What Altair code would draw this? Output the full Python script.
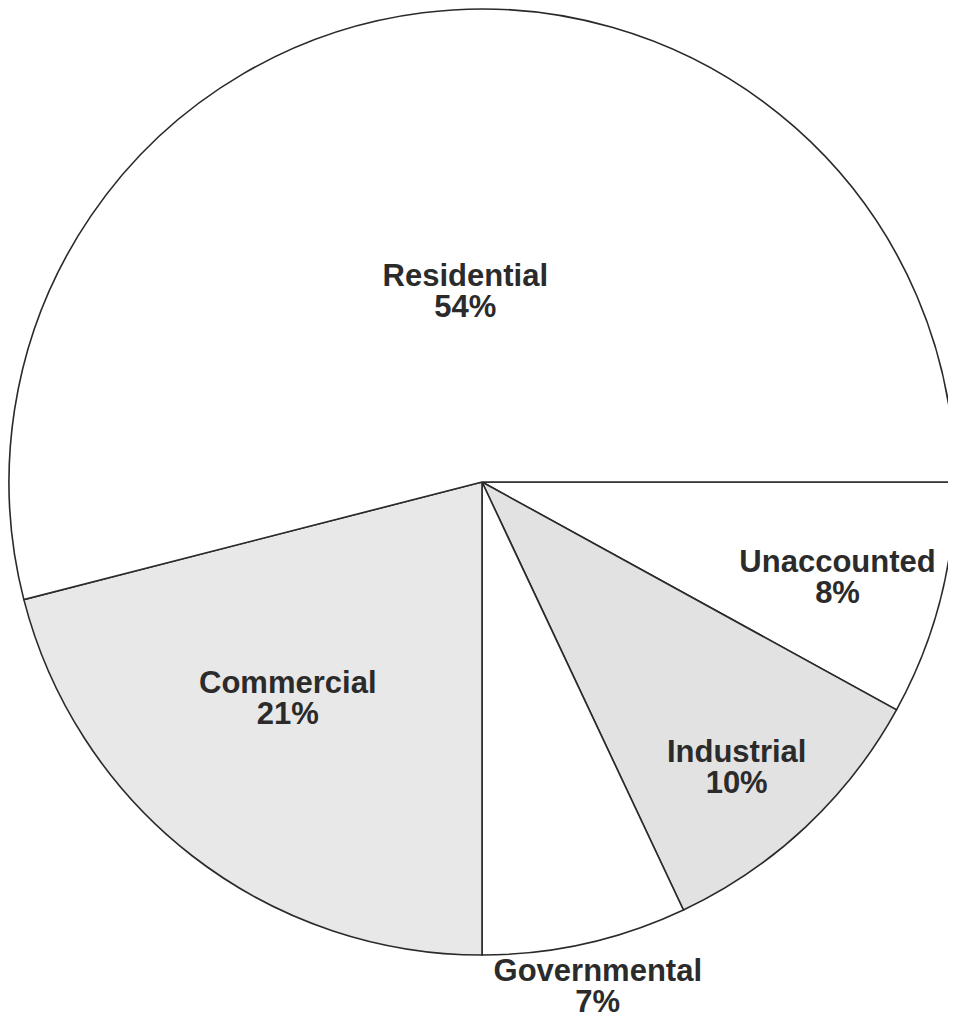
import math
import altair as alt
import pandas as pd

# Data (clockwise from 3 o'clock)
categories = ["Unaccounted", "Industrial", "Governmental", "Commercial", "Residential"]
percents = [8, 10, 7, 21, 54]

# styling
fills = ["#ffffff", "#e2e2e2", "#ffffff", "#e8e8e8", "#ffffff"]
# label placement: (radius, dx, dy) per slice label
label_place = {
    "Unaccounted": (365, 2, -10),
    "Industrial": (372, 0, 0),
    "Governmental": (517, 3, -15),
    "Commercial": (281, -22, -20),
    "Residential": (205, 9, -2),
}

W, H = 940, 1016
CX, CY, R = 474, 474, 473

df = pd.DataFrame({"cat": categories, "pct": percents, "ord": list(range(len(categories)))})

theta_scale = alt.Scale(domain=[0, 100], range=[math.pi / 2, math.pi / 2 + 2 * math.pi])

arcs = alt.Chart(df).mark_arc(stroke="#2a2a2a", strokeWidth=1.6, radius=R).encode(
    x=alt.value(CX),
    y=alt.value(CY),
    theta=alt.Theta("pct:Q", stack=True, scale=theta_scale),
    order=alt.Order("ord:Q"),
    color=alt.Color("cat:N", scale=alt.Scale(domain=categories, range=fills), legend=None),
)

text_base = alt.Chart(df).transform_window(
    cum="sum(pct)", sort=[alt.SortField("ord")], frame=[None, 0]
).transform_calculate(
    mid="datum.cum - datum.pct / 2",
    label="[datum.cat, datum.pct + '%']",
)

layers = [arcs]
for cat in categories:
    r, dx, dy = label_place[cat]
    layers.append(
        text_base.transform_filter(alt.datum.cat == cat).mark_text(
            font="Liberation Sans", fontWeight="bold", fontSize=31,
            lineHeight=31, align="center", baseline="middle", color="#2b2b2b",
            radius=r, dx=dx, dy=dy,
        ).encode(
            x=alt.value(CX),
            y=alt.value(CY),
            theta=alt.Theta("mid:Q", stack=None, scale=theta_scale),
            text="label:N",
        )
    )

chart = alt.layer(*layers).properties(
    width=W, height=H, padding=0, background="#ffffff",
    autosize=alt.AutoSizeParams(type="none"),
).configure_view(stroke=None)

chart.save("out.html", embed_options={"renderer": "svg", "actions": False})
